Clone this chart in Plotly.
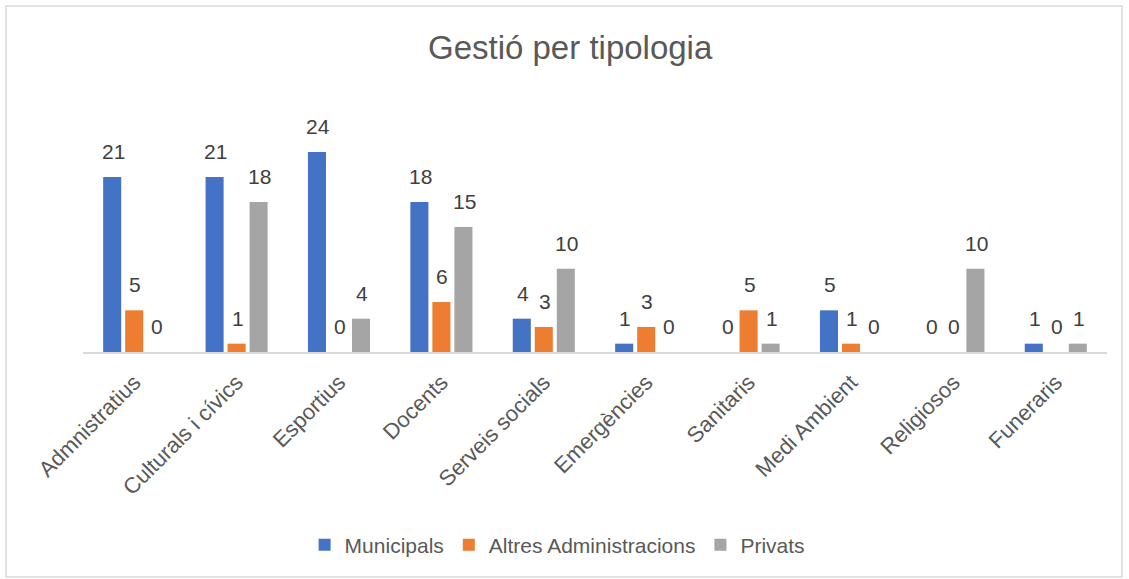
import plotly.graph_objects as go

categories = ["Admnistratius", "Culturals i cívics", "Esportius", "Docents", "Serveis socials",
              "Emergències", "Sanitaris", "Medi Ambient", "Religiosos", "Funeraris"]
municipals = [21, 21, 24, 18, 4, 1, 0, 5, 0, 1]
altres = [5, 1, 0, 6, 3, 3, 5, 1, 0, 0]
privats = [0, 18, 4, 15, 10, 0, 1, 0, 10, 1]

series = [("Municipals", municipals, "#4472C4"),
          ("Altres Administracions", altres, "#ED7D31"),
          ("Privats", privats, "#A5A5A5")]

FONT = "Liberation Sans"
L, R, T, B = 83, 22, 102, 227
PW = 1129 - L - R
BARGAP = 0.355
slot = PW / len(categories) * (1 - BARGAP) / 3

fig = go.Figure()
annotations = []
for i, (name, vals, col) in enumerate(series):
    fig.add_trace(go.Bar(
        x=categories, y=vals, name=name, marker_color=col, marker_line_width=0,
    ))
    for c, v in zip(categories, vals):
        annotations.append(dict(
            x=c, y=v, xref="x", yref="y", text=str(v), showarrow=False,
            xshift=(i - 1) * slot + 1, yshift=12, yanchor="bottom", xanchor="center",
            font=dict(size=21, color="#404040", family=FONT)))

fig.update_layout(
    width=1129, height=579,
    margin=dict(l=L, r=R, t=T, b=B),
    paper_bgcolor="white", plot_bgcolor="white",
    barmode="group", bargap=BARGAP, bargroupgap=0.18,
    title=dict(text="Gestió per tipologia", x=0.505, xanchor="center",
               y=1 - 47 / 579, yanchor="middle",
               font=dict(size=33, color="#595959", family=FONT)),
    legend=dict(orientation="h", x=0.463, xanchor="center", y=-0.772, yanchor="middle",
                font=dict(size=21, color="#595959", family=FONT),
                itemwidth=30, tracegroupgap=0),
    xaxis=dict(tickangle=-45, showline=True, linecolor="#D9D9D9", linewidth=1.5,
               ticks="", ticklabelstandoff=7,
               tickfont=dict(size=22, color="#595959", family=FONT)),
    yaxis=dict(range=[0, 30], visible=False, showgrid=False, zeroline=False),
    showlegend=True,
    annotations=annotations,
    shapes=[dict(type="rect", xref="paper", yref="paper",
                 x0=(6 - L) / PW, x1=(1122 - L) / PW,
                 y0=(352 - 577) / 250, y1=(352 - 6) / 250,
                 line=dict(color="#D9D9D9", width=1.5), fillcolor="rgba(0,0,0,0)", layer="below")],
)
fig.write_html("out.html", config={"displayModeBar": False},
               post_script="document.body.style.margin='0';")
